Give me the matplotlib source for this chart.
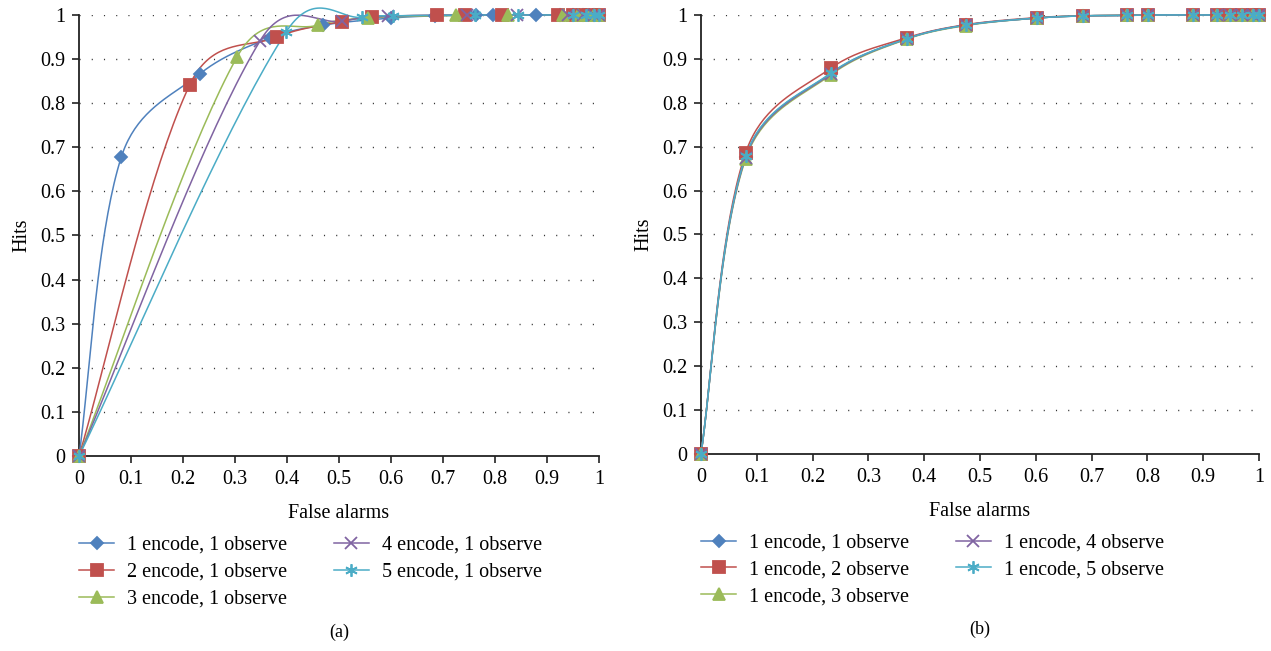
import numpy as np
import matplotlib.pyplot as plt

# panel (a): encode count varies
fa_a1 = [0, 0.081, 0.233, 0.367, 0.469, 0.60, 0.684, 0.763, 0.796, 0.879, 0.925, 0.95, 0.97, 0.99, 1.0]
hit_a1 = [0, 0.677, 0.867, 0.948, 0.977, 0.993, 0.998, 0.999, 1.0, 1.0, 1.0, 1.0, 1.0, 1.0, 1.0]
fa_a2 = [0, 0.213, 0.381, 0.505, 0.563, 0.688, 0.742, 0.813, 0.921, 0.95, 0.97, 0.985, 1.0]
hit_a2 = [0, 0.842, 0.950, 0.985, 0.996, 0.999, 1.0, 1.0, 1.0, 1.0, 1.0, 1.0, 1.0]
fa_a3 = [0, 0.304, 0.460, 0.555, 0.725, 0.825, 0.93, 0.96, 0.98, 0.99, 1.0]
hit_a3 = [0, 0.905, 0.977, 0.993, 0.999, 1.0, 1.0, 1.0, 1.0, 1.0, 1.0]
fa_a4 = [0, 0.348, 0.506, 0.594, 0.746, 0.842, 0.94, 0.97, 0.99, 1.0]
hit_a4 = [0, 0.941, 0.986, 0.997, 1.0, 1.0, 1.0, 1.0, 1.0, 1.0]
fa_a5 = [0, 0.398, 0.544, 0.604, 0.762, 0.845, 0.95, 0.975, 0.99, 1.0]
hit_a5 = [0, 0.961, 0.995, 0.998, 1.0, 1.0, 1.0, 1.0, 1.0, 1.0]

# panel (b): observe count varies (same false-alarm points)
fa_b = [0, 0.080, 0.233, 0.369, 0.475, 0.602, 0.685, 0.763, 0.801, 0.882, 0.925, 0.948, 0.97, 0.99, 1.0]
hit_b1 = [0, 0.677, 0.867, 0.946, 0.977, 0.993, 0.998, 0.999, 1.0, 1.0, 1.0, 1.0, 1.0, 1.0, 1.0]
hit_b2 = [0, 0.686, 0.879, 0.948, 0.978, 0.994, 0.998, 0.999, 1.0, 1.0, 1.0, 1.0, 1.0, 1.0, 1.0]
hit_b3 = [0, 0.672, 0.864, 0.945, 0.976, 0.993, 0.998, 0.999, 1.0, 1.0, 1.0, 1.0, 1.0, 1.0, 1.0]
hit_b4 = [0, 0.675, 0.866, 0.946, 0.977, 0.993, 0.998, 0.999, 1.0, 1.0, 1.0, 1.0, 1.0, 1.0, 1.0]
hit_b5 = [0, 0.678, 0.868, 0.946, 0.977, 0.993, 0.998, 0.999, 1.0, 1.0, 1.0, 1.0, 1.0, 1.0, 1.0]

labels_a = ["1 encode, 1 observe", "2 encode, 1 observe", "3 encode, 1 observe",
            "4 encode, 1 observe", "5 encode, 1 observe"]
labels_b = ["1 encode, 1 observe", "1 encode, 2 observe", "1 encode, 3 observe",
            "1 encode, 4 observe", "1 encode, 5 observe"]

colors = ["#4F81BD", "#C0504D", "#9BBB59", "#8064A2", "#4BACC6"]
markers = ["D", "s", "^", "x", (6, 2, 0)]
msizes = [6.5, 8, 8.5, 8, 9]

plt.rcParams["font.family"] = ["Liberation Serif", "DejaVu Serif"]
FS = 14.5


def smooth(x, y, n=40):
    # Excel-like smoothed line: Bezier through the points,
    # tangent length half plain Catmull-Rom, half scaled by segment lengths
    p = np.column_stack([x, y]).astype(float)
    p_ext = np.vstack([p[0], p, p[-1]])
    out = []
    t = np.linspace(0, 1, n)[:, None]
    for i in range(len(p) - 1):
        p0, p1, p2, p3 = p_ext[i], p_ext[i + 1], p_ext[i + 2], p_ext[i + 3]
        d01 = np.hypot(*(p1 - p0))
        d12 = np.hypot(*(p2 - p1))
        d23 = np.hypot(*(p3 - p2))
        f1 = d12 / (d01 + d12) / 3 if d01 + d12 > 0 else 0
        f2 = d12 / (d12 + d23) / 3 if d12 + d23 > 0 else 0
        f1 = 0.5 * f1 + 0.5 / 6
        f2 = 0.5 * f2 + 0.5 / 6
        c1 = p1 + (p2 - p0) * f1
        c2 = p2 - (p3 - p1) * f2
        seg = ((1 - t) ** 3) * p1 + 3 * ((1 - t) ** 2) * t * c1 + 3 * (1 - t) * t ** 2 * c2 + t ** 3 * p2
        out.append(seg)
    out = np.vstack(out)
    return out[:, 0], out[:, 1]


def draw_panel(ax, series, labels, caption):
    for (x, y), lab, c, m, ms in zip(series, labels, colors, markers, msizes):
        sx, sy = smooth(x, y)
        ax.plot(sx, sy, color=c, lw=1.1, clip_on=False, zorder=3)
        ax.plot(x, y, linestyle="none", marker=m, color=c, ms=ms, mew=1.3,
                clip_on=False, zorder=4)
        ax.plot([], [], color=c, lw=1.1, marker=m, ms=ms, mew=1.3, label=lab)
    ax.set_xlim(0, 1)
    ax.set_ylim(0, 1)
    ticks = np.round(np.arange(0, 1.01, 0.1), 1)
    ticklabels = ["0"] + [f"{v:g}" for v in ticks[1:-1]] + ["1"]
    ax.set_xticks(ticks)
    ax.set_xticklabels(ticklabels)
    ax.set_yticks(ticks)
    ax.set_yticklabels(ticklabels)
    for v in ticks[1:]:
        ax.axhline(v, color="#333333", lw=1.0, linestyle=(0, (0.8, 8.0)), zorder=1)
    for s in ["top", "right"]:
        ax.spines[s].set_visible(False)
    for s in ["left", "bottom"]:
        ax.spines[s].set_color("#222222")
        ax.spines[s].set_linewidth(1.3)
    ax.tick_params(labelsize=FS, length=5, width=1.2, color="#222222", pad=5)
    ax.set_xlabel("False alarms", fontsize=FS, labelpad=11)
    ax.set_ylabel("Hits", fontsize=FS, labelpad=6)
    ax.legend(loc="upper left", bbox_to_anchor=(0.0, -0.181), ncol=2, frameon=False,
              fontsize=FS, handlelength=1.75, handletextpad=0.65, columnspacing=2.3,
              labelspacing=0.39, borderaxespad=0, borderpad=0)
    ax.text(0.5, -0.4, caption, transform=ax.transAxes, ha="center", va="center", fontsize=13)


fig = plt.figure(figsize=(12.71, 6.51), dpi=100)
ax1 = fig.add_axes([0.0622, 0.2995, 0.409, 0.6775])
ax2 = fig.add_axes([0.5515, 0.3026, 0.439, 0.6744])

draw_panel(ax1, [(fa_a1, hit_a1), (fa_a2, hit_a2), (fa_a3, hit_a3), (fa_a4, hit_a4), (fa_a5, hit_a5)],
           labels_a, "(a)")
draw_panel(ax2, [(fa_b, hit_b1), (fa_b, hit_b2), (fa_b, hit_b3), (fa_b, hit_b4), (fa_b, hit_b5)],
           labels_b, "(b)")

fig.savefig("out.png", dpi=100)
